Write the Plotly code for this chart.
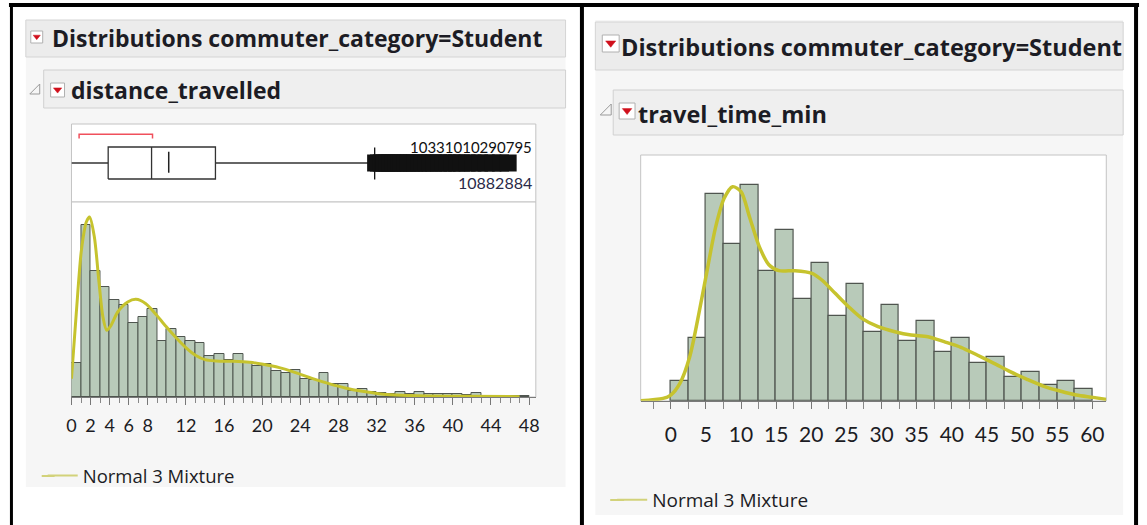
import plotly.graph_objects as go

W, H = 1147, 525
def px(x): return x / W
def py(y): return 1 - y / H

# ---------------- data: distance_travelled (commuter_category = Student) ----------------
dist_bin_start = [0, 1, 2, 3, 4, 5, 6, 7, 8, 9, 10, 11, 12, 13, 14, 15, 16, 17, 18, 19, 20, 21, 22, 23,
                  24, 25, 26, 27, 28, 29, 30, 31, 32, 33, 34, 35, 36, 37, 38, 39, 40, 41, 42, 43, 44, 45, 46, 47]
dist_counts = [103, 515, 377, 330, 290, 275, 222, 240, 264, 168, 205, 180, 168, 162, 122, 128, 112, 128,
               105, 93, 100, 78, 73, 80, 55, 50, 72, 40, 40, 18, 24, 15, 12, 10, 15, 8, 15, 10, 10, 10,
               10, 5, 12, 4, 4, 3, 3, 2]
dist_fit_x = [0, 0.5, 1.04, 1.56, 1.9, 2.4, 2.9, 3.3, 3.7, 4.15, 4.85, 5.9, 6.75, 7.8, 8.8, 9.9, 10.9,
              12, 13, 14, 15.2, 17, 18.7, 20.1, 21.8, 23.5, 25.3, 27, 28.7, 30.5, 32.2, 34, 37.4, 40.9, 47]
dist_fit_y = [55, 250, 440, 525, 540, 480, 340, 240, 200, 215, 255, 285, 293, 280, 250, 212, 180,
              148, 125, 112, 108, 107, 104, 98, 88, 73, 55, 40, 27, 17, 10, 6, 3, 2, 1]
dist_q1, dist_median, dist_q3 = 3.85, 8.4, 15.1
dist_mean = 10.2
dist_whisker = [0.0, 31.8]
dist_shortest_half = [0.8, 8.5]
dist_outliers = [31.9, 32.2, 32.5, 32.8, 33.1, 33.4, 33.7, 34.0, 34.3, 34.6, 35.0, 35.3, 35.7, 36.0,
                 36.4, 36.8, 37.2, 37.6, 38.0, 38.5, 39.0, 39.4, 39.9, 40.4, 40.9, 41.5, 42.1, 42.8,
                 43.5, 44.2, 45.0, 45.8]
dist_outlier_labels = ["10331010290795", "10882884"]
dist_ticks = [0, 2, 4, 6, 8, 12, 16, 20, 24, 28, 32, 36, 40, 44, 48]

# ---------------- data: travel_time_min (commuter_category = Student) ----------------
time_bin_start = [0, 2.5, 5, 7.5, 10, 12.5, 15, 17.5, 20, 22.5, 25, 27.5, 30, 32.5, 35, 37.5,
                  40, 42.5, 45, 47.5, 50, 52.5, 55, 57.5]
time_counts = [60, 189, 620, 470, 646, 389, 511, 304, 414, 254, 350, 207, 286, 178, 240, 146,
               188, 112, 131, 72, 86, 46, 60, 35]
time_fit_x = [-4.3, -1.1, 0, 1.3, 2.7, 4.1, 5.1, 6.4, 7.6, 8.8, 10, 11.2, 12.6, 14, 15.4, 17.7,
              20.1, 21.5, 23.4, 25.3, 27.2, 29.5, 31.9, 34.2, 36.6, 38.9, 41.3, 43.6, 46, 48.3,
              50.7, 53, 55.4, 57.7, 60.1, 62]
time_fit_y = [0, 7, 17, 52, 132, 272, 382, 522, 607, 642, 627, 552, 462, 407, 390, 390,
              382, 362, 322, 282, 247, 222, 207, 197, 192, 177, 160, 137, 112, 87,
              64, 44, 29, 17, 10, 4]
time_ticks = [0, 5, 10, 15, 20, 25, 30, 35, 40, 45, 50, 55, 60]

title_text = "Distributions commuter_category=Student"
legend_text = "Normal 3 Mixture"

# ---------------- styles ----------------
BAR_FILL = "#b8cab9"
BAR_LINE = "#4f554f"
FIT = "#c6c32e"
LEG = "#d2d27a"
TXT = "#1c1c24"
FONT_T = "'Open Sans', sans-serif"
FONT = "Lato, 'Open Sans', sans-serif"

fig = go.Figure()

# --- left box plot ---
fig.add_trace(go.Scatter(x=[dist_whisker[0], dist_q1], y=[0, 0], mode="lines",
                         line=dict(color="#333", width=1.3), xaxis="x", yaxis="y", showlegend=False))
fig.add_trace(go.Scatter(x=[dist_q3, dist_whisker[1]], y=[0, 0], mode="lines",
                         line=dict(color="#333", width=1.3), xaxis="x", yaxis="y", showlegend=False))
fig.add_trace(go.Scatter(x=[dist_q1, dist_q3, dist_q3, dist_q1, dist_q1], y=[-0.41, -0.41, 0.41, 0.41, -0.41],
                         mode="lines", line=dict(color="#333", width=1.3), fill="toself",
                         fillcolor="white", xaxis="x", yaxis="y", showlegend=False))
fig.add_trace(go.Scatter(x=[dist_median, dist_median], y=[-0.41, 0.41], mode="lines",
                         line=dict(color="#333", width=1.3), xaxis="x", yaxis="y", showlegend=False))
fig.add_trace(go.Scatter(x=[dist_mean, dist_mean], y=[-0.25, 0.29], mode="lines",
                         line=dict(color="#222", width=1.5), xaxis="x", yaxis="y", showlegend=False))
fig.add_trace(go.Scatter(x=[dist_shortest_half[0], dist_shortest_half[0], dist_shortest_half[1], dist_shortest_half[1]],
                         y=[0.63, 0.74, 0.74, 0.63], mode="lines",
                         line=dict(color="#f0505c", width=1.5), xaxis="x", yaxis="y", showlegend=False))
fig.add_trace(go.Scatter(x=dist_outliers, y=[0] * len(dist_outliers), mode="markers",
                         marker=dict(symbol="square", size=17, color="#111"),
                         xaxis="x", yaxis="y", showlegend=False))
fig.add_trace(go.Scatter(x=[dist_whisker[1], dist_whisker[1]], y=[-0.42, 0.4], mode="lines",
                         line=dict(color="#111", width=1.3), xaxis="x", yaxis="y", showlegend=False))
# outlier row labels (reference shows them piled up at the right end)
fig.add_annotation(x=48.5, y=0.40, xref="x", yref="y", text=dist_outlier_labels[0], showarrow=False,
                   xanchor="right", yanchor="middle", font=dict(family=FONT, size=15, color="#101010"))
fig.add_annotation(x=48.5, y=-0.5, xref="x", yref="y", text=dist_outlier_labels[1], showarrow=False,
                   xanchor="right", yanchor="middle", font=dict(family=FONT, size=16, color="#2a2a48"))

# --- left histogram ---
fig.add_trace(go.Bar(x=dist_bin_start, y=dist_counts, width=1, offset=0,
                     marker=dict(color=BAR_FILL, line=dict(color=BAR_LINE, width=1)),
                     xaxis="x2", yaxis="y2", showlegend=False))
fig.add_trace(go.Scatter(x=dist_fit_x, y=dist_fit_y, mode="lines", line=dict(color=FIT, width=3, shape="spline", smoothing=0.8),
                         xaxis="x2", yaxis="y2", showlegend=False))

# --- right histogram ---
fig.add_trace(go.Bar(x=time_bin_start, y=time_counts, width=2.5, offset=0,
                     marker=dict(color=BAR_FILL, line=dict(color=BAR_LINE, width=1.2)),
                     xaxis="x3", yaxis="y3", showlegend=False))
fig.add_trace(go.Scatter(x=time_fit_x, y=time_fit_y, mode="lines", line=dict(color=FIT, width=3.5, shape="spline", smoothing=0.8),
                         xaxis="x3", yaxis="y3", showlegend=False))

# legend entries
fig.add_trace(go.Scatter(x=[None], y=[None], mode="lines", name=legend_text,
                         line=dict(color=LEG, width=2), xaxis="x2", yaxis="y2", legend="legend"))
fig.add_trace(go.Scatter(x=[None], y=[None], mode="lines", name=legend_text,
                         line=dict(color=LEG, width=2), xaxis="x3", yaxis="y3", legend="legend2"))

# ---------------- panels / decoration ----------------
shapes = []
def rect(x0, y0, x1, y1, fill, line=None, lw=1):
    shapes.append(dict(type="rect", xref="paper", yref="paper", x0=px(x0), x1=px(x1), y0=py(y1), y1=py(y0),
                       fillcolor=fill, line=dict(color=line or fill, width=lw if line else 0), layer="below"))
def hline(x0, x1, y, col, w):
    shapes.append(dict(type="line", xref="paper", yref="paper", x0=px(x0), x1=px(x1), y0=py(y), y1=py(y),
                       line=dict(color=col, width=w), layer="above"))
def vline(x, y0, y1, col, w):
    shapes.append(dict(type="line", xref="paper", yref="paper", x0=px(x), x1=px(x), y0=py(y0), y1=py(y1),
                       line=dict(color=col, width=w), layer="above"))

# left panel
rect(21, 20, 565, 487, "#f6f6f6")
rect(21, 20, 565, 57, "#ececec", "#d4d4d4")
rect(39, 70, 565, 108, "#efefef", "#d0d0d0")
rect(67, 124, 535, 202, "white", "#c4c4c4")
rect(67, 202, 535, 397, "white", "#c4c4c4")
# right panel
rect(595, 20, 1127, 515, "#f6f6f6")
rect(595, 22, 1127, 70, "#ececec", "#d4d4d4")
rect(613, 90, 1127, 135, "#efefef", "#d0d0d0")
rect(640.7, 155, 1110, 401, "white", "#c4c4c4")

# legend key extensions (reference keys are a little longer than plotly's)
hline(37, 50, 476, LEG, 2)
hline(610, 624, 500, LEG, 2)

# red dropdown icons
def icon(x0, y0, s):
    shapes.append(dict(type="rect", xref="paper", yref="paper", x0=px(x0), x1=px(x0 + s), y0=py(y0 + s), y1=py(y0),
                       fillcolor="white", line=dict(color="#b0b0b0", width=1), layer="above"))
    a, b, c = x0 + s * 0.2, x0 + s * 0.8, x0 + s * 0.5
    t, bt = y0 + s * 0.35, y0 + s * 0.72
    shapes.append(dict(type="path", xref="paper", yref="paper",
                       path=f"M {px(a)},{py(t)} L {px(b)},{py(t)} L {px(c)},{py(bt)} Z",
                       fillcolor="#d0101c", line=dict(color="#d0101c", width=0.5), layer="above"))
def collapse(x0, y0, s):
    shapes.append(dict(type="path", xref="paper", yref="paper",
                       path=f"M {px(x0 + s)},{py(y0)} L {px(x0 + s)},{py(y0 + s)} L {px(x0)},{py(y0 + s)} Z",
                       fillcolor="rgba(0,0,0,0)", line=dict(color="#9a9a9a", width=1), layer="above"))

icon(26, 31, 12)
icon(46, 83, 14)
collapse(25, 84, 10)
icon(602, 35, 17)
icon(619, 103, 16)
collapse(600, 104, 11)

# black borders
hline(4, 1143, 5, "black", 4)
vline(6.5, 3, 525, "black", 3)
vline(581.5, 3, 525, "black", 4)
vline(1140, 3, 525, "black", 4)

annotations = [
    dict(x=px(45), y=py(38), text=f"<b>{title_text}</b>", font=dict(family=FONT_T, size=23, color=TXT)),
    dict(x=px(65), y=py(90), text="<b>distance_travelled</b>", font=dict(family=FONT_T, size=23, color=TXT)),
    dict(x=px(619), y=py(47), text=f"<b>{title_text}</b>", font=dict(family=FONT_T, size=23.5, color=TXT)),
    dict(x=px(636), y=py(114), text="<b>travel_time_min</b>", font=dict(family=FONT_T, size=23.5, color=TXT)),
]
for a in annotations:
    a.update(xref="paper", yref="paper", showarrow=False, xanchor="left", yanchor="middle")
    fig.add_annotation(**a)

axis_common = dict(showgrid=False, zeroline=False, fixedrange=True)
fig.update_layout(
    width=W, height=H, margin=dict(l=0, r=0, t=0, b=0),
    paper_bgcolor="white", plot_bgcolor="rgba(0,0,0,0)", bargap=0,
    shapes=shapes,
    xaxis=dict(domain=[px(67), px(535)], range=[0, 48.7], visible=False, anchor="y", **axis_common),
    yaxis=dict(domain=[py(202), py(124)], range=[-1, 1], visible=False, anchor="x", **axis_common),
    xaxis2=dict(domain=[px(67), px(535)], range=[0, 48.7], anchor="y2", showline=True, linecolor="#7a7a7a",
                ticks="outside", tickvals=dist_ticks, ticklen=7, tickcolor="#777", tickwidth=1,
                ticklabelstandoff=5,
                minor=dict(tickmode="linear", tick0=0, dtick=1, ticks="outside", ticklen=5, tickcolor="#888"),
                tickfont=dict(family=FONT, size=18, color=TXT), **axis_common),
    yaxis2=dict(domain=[py(397), py(202)], range=[0, 585], visible=False, anchor="x2", **axis_common),
    xaxis3=dict(domain=[px(640.7), px(1110)], range=[-4.28, 61.98], anchor="y3", showline=True, linecolor="#7a7a7a",
                ticks="outside", tickvals=time_ticks, ticklen=7, tickcolor="#777", tickwidth=1,
                ticklabelstandoff=8,
                minor=dict(tickmode="linear", tick0=-2.5, dtick=2.5, ticks="outside", ticklen=7, tickcolor="#888"),
                tickfont=dict(family=FONT, size=21, color=TXT), **axis_common),
    yaxis3=dict(domain=[py(400.7), py(155)], range=[0, 737], visible=False, anchor="x3", **axis_common),
    legend=dict(x=px(38), y=py(476), xanchor="left", yanchor="middle", bgcolor="rgba(0,0,0,0)",
                font=dict(family=FONT_T, size=18.5, color=TXT), itemwidth=30),
    legend2=dict(x=px(612), y=py(500), xanchor="left", yanchor="middle", bgcolor="rgba(0,0,0,0)",
                 font=dict(family=FONT_T, size=19, color=TXT), itemwidth=30),
)

fig.write_html("out.html", config={"displayModeBar": False},
               post_script="document.body.style.margin='0px';document.body.style.overflow='hidden';")
